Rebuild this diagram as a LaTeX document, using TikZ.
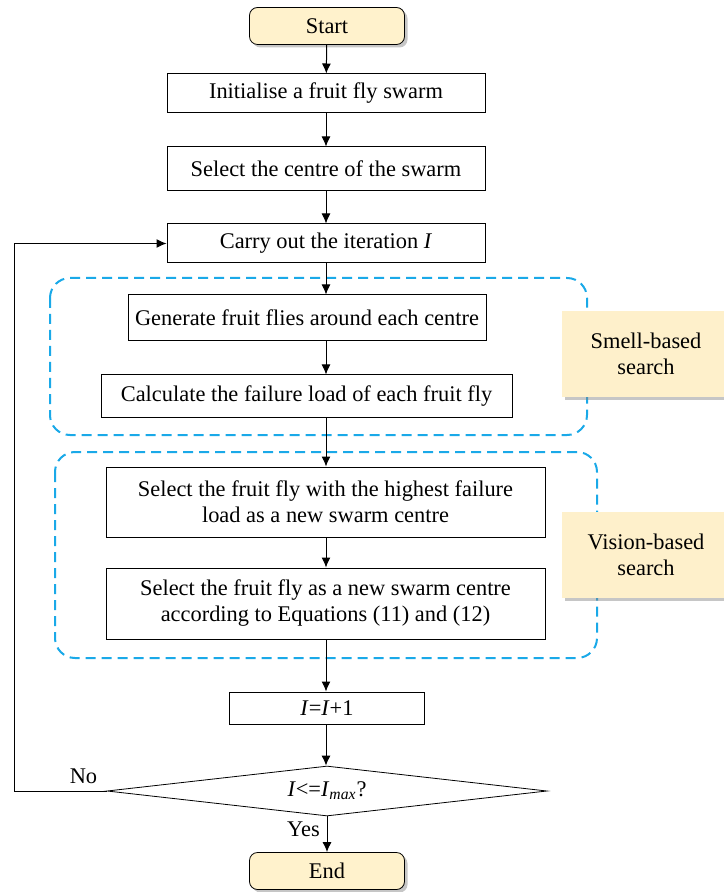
\documentclass[tikz,border=0pt]{standalone}
\usepackage{fontspec}
\setmainfont{Liberation Serif}
\usetikzlibrary{shapes,arrows.meta,positioning,calc,shadows}
\definecolor{paleyellow}{HTML}{FFF2CC}
\definecolor{labelyellow}{HTML}{FEF0CB}
\definecolor{skyblue}{HTML}{1AA9E8}

\tikzset{
  startend/.style={draw, fill=paleyellow, rounded corners=4pt, minimum width=77.5pt, minimum height=18.5pt,
    drop shadow={opacity=0.45, shadow xshift=1.5pt, shadow yshift=-1.5pt}},
  process/.style={draw, fill=white, align=center, inner sep=2pt, line width=0.5pt},
  decision/.style={draw, diamond, fill=white, inner sep=0pt, aspect=9, minimum width=220pt, minimum height=25pt},
  phase/.style={draw=skyblue, line width=1pt, dash pattern=on 5pt off 3pt, rounded corners=10pt},
  tag/.style={fill=labelyellow, align=center, minimum width=84pt, minimum height=43pt,
    drop shadow={opacity=0.45, shadow xshift=1.5pt, shadow yshift=-1.5pt}},
  flow/.style={-{Latex[length=5pt,width=4.5pt]}, line width=0.5pt}
}

\begin{document}
\begin{tikzpicture}[x=0.5pt, y=-0.5pt, font=\fontsize{11.2pt}{13pt}\selectfont]
\useasboundingbox (0,0) rectangle (723,892);

% search phases
\draw[phase] (50,278) rectangle (587,435);
\draw[phase] (55,452) rectangle (597,658);

\node[startend] (start) at (327,26) {Start};
\node[process, minimum width=159pt, minimum height=19.5pt] (init) at (326,93.5) {Initialise a fruit fly swarm};
\node[process, minimum width=159pt, minimum height=22pt] (centre) at (326,169) {Select the centre of the swarm};
\node[process, minimum width=159pt, minimum height=19.5pt] (iter) at (326,243.5) {Carry out the iteration \textit{I}};
\node[process, minimum width=179pt, minimum height=23pt] (gen) at (307,318) {Generate fruit flies around each centre};
\node[process, minimum width=205.5pt, minimum height=21pt] (calc) at (306.5,396) {Calculate the failure load of each fruit fly};
\node[process, minimum width=219.5pt, minimum height=35pt] (best) at (325.5,502) {Select the fruit fly with the highest failure\\load as a new swarm centre};
\node[process, minimum width=219.5pt, minimum height=35.5pt] (newc) at (325.5,603.5) {Select the fruit fly as a new swarm centre\\according to Equations (11) and (12)};
\node[process, minimum width=97.5pt, minimum height=16pt] (incr) at (327,708) {\textit{I}=\textit{I}+1};
\node[decision] (check) at (327,791) {\textit{I}<=\textit{I}\textsubscript{\textit{max}}?};
\node[startend] (end) at (327,871) {End};

% phase labels
\node[tag] (smell) at (646,354) {Smell-based\\search};
\node[tag] (vision) at (646,555) {Vision-based\\search};

% main flow
\draw[flow] (start) -- (init);
\draw[flow] (init) -- (centre);
\draw[flow] (centre) -- (iter);
\draw[flow] (iter) -- (iter |- gen.north);
\draw[flow] (iter |- gen.south) -- (iter |- calc.north);
\draw[flow] (iter |- calc.south) -- (iter |- best.north);
\draw[flow] (iter |- best.south) -- (iter |- newc.north);
\draw[flow] (iter |- newc.south) -- (iter |- incr.north);
\draw[flow] (iter |- incr.south) -- (iter |- check.north);
\draw[flow] (check) -- node[left, pos=0.35] {Yes} (end);
\draw[flow] (check.west) -- node[above, pos=0.25] {No} (14,791) |- (iter.west);
\end{tikzpicture}
\end{document}
